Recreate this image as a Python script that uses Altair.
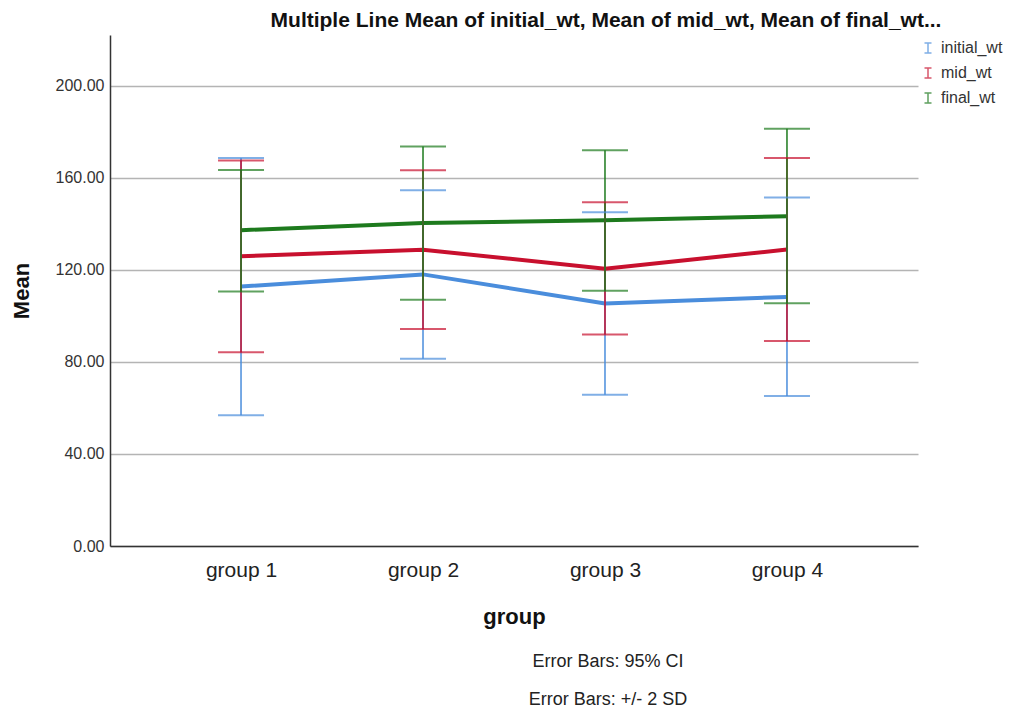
import altair as alt
import pandas as pd

groups = ["group 1", "group 2", "group 3", "group 4"]
series = ["initial_wt", "mid_wt", "final_wt"]
initial_mean = [112.7, 118.0, 105.4, 108.2]
initial_lo = [56.8, 81.4, 65.7, 65.2]
initial_hi = [168.6, 154.5, 145.0, 151.4]
mid_mean = [125.9, 128.7, 120.5, 128.8]
mid_lo = [84.2, 94.3, 91.9, 89.1]
mid_hi = [167.5, 163.2, 149.3, 168.6]
final_mean = [137.2, 140.3, 141.5, 143.3]
final_lo = [110.6, 107.0, 110.9, 105.5]
final_hi = [163.3, 173.6, 171.9, 181.3]
colors = ["#4A8DDC", "#C8102E", "#1D7A1D"]

rows = []
for s, m, lo, hi in zip(series, [initial_mean, mid_mean, final_mean],
                        [initial_lo, mid_lo, final_lo], [initial_hi, mid_hi, final_hi]):
    for g, mv, l, h in zip(groups, m, lo, hi):
        rows.append({"group": g, "series": s, "mean": mv, "lo": l, "hi": h})
df = pd.DataFrame(rows)

FONT = "Liberation Sans"

xenc = alt.X("group:N", sort=groups,
             scale=alt.Scale(type="point", padding=0.72),
             axis=alt.Axis(title="group", labelAngle=0, labelFontSize=21,
                           labelColor="#222", labelPadding=13, ticks=False,
                           domainColor="#333", domainWidth=1.5,
                           titleFontSize=22, titleFontWeight="bold",
                           titleColor="#111", titlePadding=26,
                           labelFont=FONT, titleFont=FONT))
yscale = alt.Scale(domain=[0, 222], nice=False, zero=True)
color = alt.Color("series:N", sort=series,
                  scale=alt.Scale(domain=series, range=colors),
                  legend=alt.Legend(title=None, orient="none", legendX=810, legendY=5,
                                    symbolType="M-0.7,-1H0.7M0,-1V1M-0.7,1H0.7",
                                    symbolSize=100, symbolStrokeWidth=1.5,
                                    symbolFillColor="transparent",
                                    labelFontSize=16, labelColor="#333",
                                    labelFont=FONT, rowPadding=9,
                                    labelOffset=5, labelLimit=200))

base = alt.Chart(df)

lines = base.mark_line(strokeWidth=4).encode(
    x=xenc,
    y=alt.Y("mean:Q", scale=yscale,
            axis=alt.Axis(title="Mean", values=[0, 40, 80, 120, 160, 200],
                          format=".2f", labelFontSize=16, labelColor="#333",
                          labelPadding=6, ticks=False, grid=True,
                          gridColor="#b4b4b4", gridWidth=1.5,
                          domainColor="#333", domainWidth=1.5,
                          titleFontSize=22, titleFontWeight="bold",
                          titleColor="#111", titlePadding=22,
                          labelFont=FONT, titleFont=FONT)),
    color=color,
)

rules = base.mark_rule(strokeWidth=1.5).encode(
    x=xenc, y=alt.Y("lo:Q", scale=yscale), y2="hi:Q", color=color,
)
caps_lo = base.mark_tick(size=46, thickness=2).encode(
    x=xenc, y=alt.Y("lo:Q", scale=yscale), color=color,
)
caps_hi = base.mark_tick(size=46, thickness=2).encode(
    x=xenc, y=alt.Y("hi:Q", scale=yscale), color=color,
)

notes = pd.DataFrame({"t": ["Error Bars: 95% CI", "Error Bars: +/- 2 SD"], "k": [0, 1]})
note1 = alt.Chart(notes[notes.k == 0]).mark_text(
    fontSize=18, color="#222", font=FONT, align="center").encode(
    text="t:N", x=alt.value(498), y=alt.value(627))
note2 = alt.Chart(notes[notes.k == 1]).mark_text(
    fontSize=18, color="#222", font=FONT, align="center").encode(
    text="t:N", x=alt.value(498), y=alt.value(665))

chart = alt.layer(lines, rules, caps_lo, caps_hi, note1, note2).properties(
    width=808, height=511,
    autosize=alt.AutoSizeParams(type="none"),
    padding={"left": 102, "top": 27, "right": 95, "bottom": 165},
    title=alt.TitleParams(
        "Multiple Line Mean of initial_wt, Mean of mid_wt, Mean of final_wt...",
        fontSize=21, fontWeight="bold", font=FONT, color="#111",
        anchor="middle", dx=92, offset=4),
).configure_view(stroke=None)

chart.save("out.html", embed_options={"renderer": "svg", "actions": False})
